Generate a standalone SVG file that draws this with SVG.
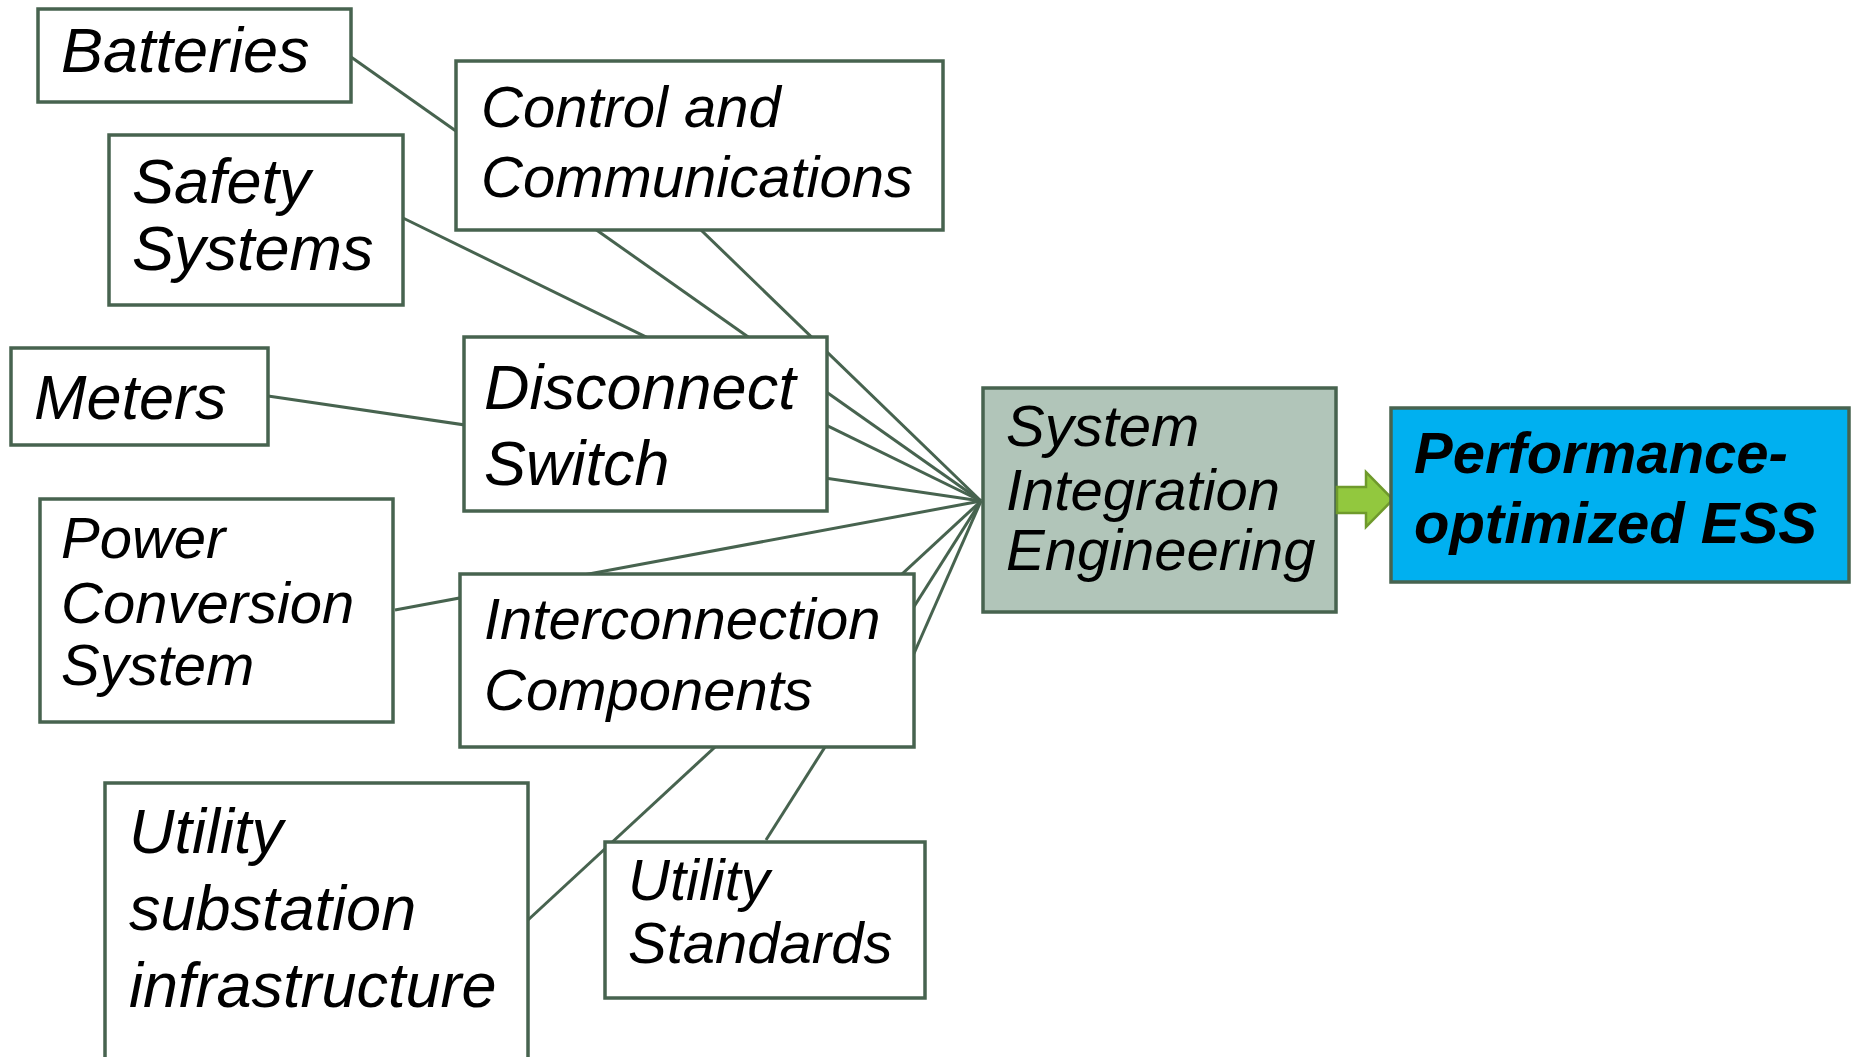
<svg xmlns="http://www.w3.org/2000/svg" width="1856" height="1057" viewBox="0 0 1856 1057">
<style>
.box{fill:#ffffff;stroke:#47634f;stroke-width:3.5}
.ln{stroke:#47634f;stroke-width:3;fill:none}
.t{font-family:"Liberation Sans",Arial,sans-serif;font-style:italic;fill:#000}
.l{font-size:63px}
.s{font-size:58px}
.b{font-weight:bold}
</style>
<rect width="1856" height="1057" fill="#ffffff"/>
<g id="connectors">
<line class="ln" x1="351" y1="57" x2="981" y2="501"/>
<line class="ln" x1="639" y1="170" x2="981" y2="501"/>
<line class="ln" x1="403" y1="218" x2="981" y2="501"/>
<line class="ln" x1="268" y1="396" x2="981" y2="501"/>
<line class="ln" x1="395" y1="610" x2="981" y2="501"/>
<line class="ln" x1="528" y1="920" x2="981" y2="501"/>
<line class="ln" x1="766" y1="840" x2="981" y2="501"/>
<line class="ln" x1="890" y1="708" x2="981" y2="501"/>
</g>
<g id="batteries">
<rect class="box" x="38" y="9" width="313" height="93"/>
<text class="t l" x="61" y="72">Batteries</text>
</g>
<g id="control">
<rect class="box" x="456" y="61" width="487" height="169"/>
<text class="t s" x="481" y="127">Control and</text>
<text class="t s" x="481" y="197">Communications</text>
</g>
<g id="safety">
<rect class="box" x="109" y="135" width="294" height="170"/>
<text class="t l" x="132" y="203">Safety</text>
<text class="t l" x="132" y="270">Systems</text>
</g>
<g id="meters">
<rect class="box" x="11" y="348" width="257" height="97"/>
<text class="t l" x="34" y="419">Meters</text>
</g>
<g id="disconnect">
<rect class="box" x="464" y="337" width="363" height="174"/>
<text class="t l" x="484" y="409">Disconnect</text>
<text class="t l" x="484" y="485">Switch</text>
</g>
<g id="power">
<rect class="box" x="40" y="499" width="353" height="223"/>
<text class="t s" x="61" y="558">Power</text>
<text class="t s" x="61" y="623">Conversion</text>
<text class="t s" x="61" y="685">System</text>
</g>
<g id="interconnection">
<rect class="box" x="460" y="574" width="454" height="173"/>
<text class="t s" x="484" y="639">Interconnection</text>
<text class="t s" x="484" y="710">Components</text>
</g>
<g id="substation">
<rect class="box" x="105" y="783" width="423" height="280"/>
<text class="t l" x="129" y="853">Utility</text>
<text class="t l" x="129" y="930">substation</text>
<text class="t l" x="129" y="1007">infrastructure</text>
</g>
<g id="standards">
<rect class="box" x="605" y="842" width="320" height="156"/>
<text class="t s" x="628" y="900">Utility</text>
<text class="t s" x="628" y="963">Standards</text>
</g>
<g id="sie">
<rect class="box" x="983" y="388" width="353" height="224" style="fill:#b1c5b9"/>
<text class="t s" x="1006" y="446">System</text>
<text class="t s" x="1006" y="510">Integration</text>
<text class="t s" x="1006" y="570">Engineering</text>
</g>
<g id="arrow">
<polygon points="1337,487 1366,487 1366,472 1393,499.5 1366,527 1366,513 1337,513" fill="#92c83e" stroke="#6f9a2c" stroke-width="2.5" stroke-linejoin="miter"/>
</g>
<g id="ess">
<rect class="box" x="1391" y="408" width="458" height="174" style="fill:#00b0f0"/>
<text class="t s b" x="1414" y="473">Performance-</text>
<text class="t s b" x="1414" y="543">optimized ESS</text>
</g>
</svg>
